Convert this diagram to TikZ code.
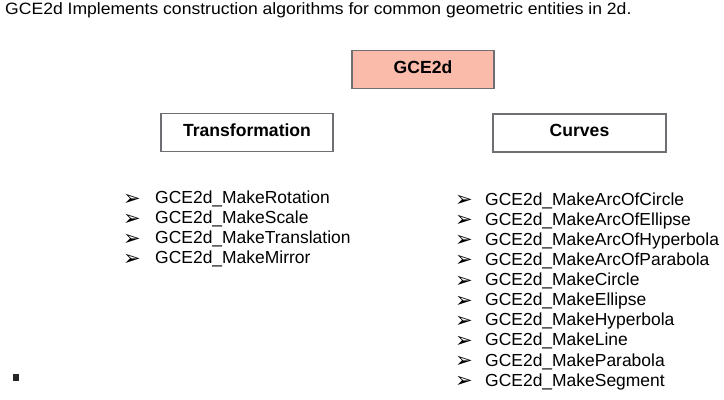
\documentclass[tikz,border=0pt]{standalone}
\usepackage{fontspec}
\setmainfont{Liberation Sans}
\newfontfamily\dingfont{DejaVu Sans}
\newfontfamily\titlefont[FakeStretch=1.07]{Liberation Sans}
\usepackage{xcolor}
\usetikzlibrary{positioning}
\definecolor{salmon}{RGB}{250,187,170}
\definecolor{boxline}{RGB}{110,110,115}

\tikzset{
	headbox/.style={draw=boxline, line width=1.2pt, minimum width=4.26cm, minimum height=1.14cm, text depth=0.15cm, font=\fontsize{15}{17}\selectfont\bfseries},
	entry/.style={anchor=base west, inner sep=0pt, font=\fontsize{14.9}{17}\selectfont},
	tip/.style={anchor=west, inner sep=0pt, yshift=-0.06cm, font=\dingfont\fontsize{18}{20}\selectfont}
}

\begin{document}
\begin{tikzpicture}[x=0.03cm, y=-0.03cm]
				\useasboundingbox (0,0) rectangle (724,400);
				
				\node [anchor=base west, inner sep=0pt, font=\titlefont\fontsize{14}{16}\selectfont] (title) at (5,14.2) {GCE2d Implements construction algorithms for common geometric entities in 2d.};
				
				\node [headbox, fill=salmon] (gce) at (423,69.5) {GCE2d};
				\node [headbox, fill=white, minimum width=5.16cm] (trans) at (247,132.5) {Transformation};
				\node [headbox, fill=white, minimum width=5.19cm] (curves) at (579.5,133) {Curves};
				
				% % % % % % % % % % % % % % % % % % % % % % % % % %
				
				\node [tip] (t1) at (123,197.5) {➢};
				\node [tip] (t2) at (123,217.5) {➢};
				\node [tip] (t3) at (123,237.5) {➢};
				\node [tip] (t4) at (123,257.5) {➢};
				\node [entry] (rot) at (155,203.8) {GCE2d\_MakeRotation};
				\node [entry] (scale) at (155,223.8) {GCE2d\_MakeScale};
				\node [entry] (transl) at (155,243.8) {GCE2d\_MakeTranslation};
				\node [entry] (mirror) at (155,263.8) {GCE2d\_MakeMirror};
				
				\node [tip] (c1) at (455,199) {➢};
				\node [tip] (c2) at (455,219.1) {➢};
				\node [tip] (c3) at (455,239.2) {➢};
				\node [tip] (c4) at (455,259.3) {➢};
				\node [tip] (c5) at (455,279.4) {➢};
				\node [tip] (c6) at (455,299.5) {➢};
				\node [tip] (c7) at (455,319.6) {➢};
				\node [tip] (c8) at (455,339.7) {➢};
				\node [tip] (c9) at (455,359.8) {➢};
				\node [tip] (c10) at (455,379.9) {➢};
				\node [entry] (arccirc) at (485,205.3) {GCE2d\_MakeArcOfCircle};
				\node [entry] (arcell) at (485,225.4) {GCE2d\_MakeArcOfEllipse};
				\node [entry] (archyp) at (485,245.5) {GCE2d\_MakeArcOfHyperbola};
				\node [entry] (arcpar) at (485,265.6) {GCE2d\_MakeArcOfParabola};
				\node [entry] (circ) at (485,285.7) {GCE2d\_MakeCircle};
				\node [entry] (ell) at (485,305.8) {GCE2d\_MakeEllipse};
				\node [entry] (hyp) at (485,325.9) {GCE2d\_MakeHyperbola};
				\node [entry] (line) at (485,346) {GCE2d\_MakeLine};
				\node [entry] (par) at (485,366.1) {GCE2d\_MakeParabola};
				\node [entry] (seg) at (485,386.2) {GCE2d\_MakeSegment};
				
				\fill [black!85] (13,374) rectangle (19,381);
\end{tikzpicture}
\end{document}
